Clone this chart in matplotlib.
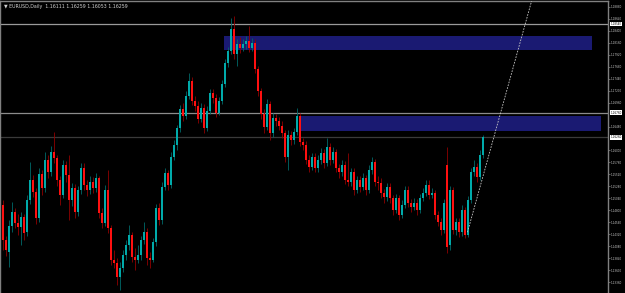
import matplotlib
matplotlib.use("Agg")
import matplotlib.pyplot as plt
import matplotlib.transforms as mtransforms
import numpy as np

header_text = "\u25bc EURUSD,Daily  1.16111 1.16259 1.16053 1.16259"

opens = [1.1490, 1.1420, 1.1396, 1.1448, 1.1476, 1.1454, 1.1446, 1.1466, 1.1436, 1.1500,
         1.1540, 1.1516, 1.1464, 1.1552, 1.1524, 1.1580, 1.1556, 1.1596, 1.1584, 1.1540,
         1.1510, 1.1570, 1.1550, 1.1500, 1.1524, 1.1476, 1.1520, 1.1564, 1.1530, 1.1520,
         1.1536, 1.1524, 1.1544, 1.1474, 1.1454, 1.1520, 1.1444, 1.1380, 1.1374, 1.1346,
         1.1364, 1.1390, 1.1410, 1.1430, 1.1386, 1.1380, 1.1390, 1.1420, 1.1436, 1.1384,
         1.1380, 1.1416, 1.1484, 1.1460, 1.1526, 1.1554, 1.1530, 1.1586, 1.1610, 1.1644,
         1.1684, 1.1670, 1.1710, 1.1740, 1.1700, 1.1690, 1.1664, 1.1686, 1.1644, 1.1680,
         1.1716, 1.1706, 1.1676, 1.1700, 1.1734, 1.1776, 1.1800, 1.1844, 1.1794, 1.1814,
         1.1806, 1.1814, 1.1820, 1.1806, 1.1816, 1.1764, 1.1720, 1.1674, 1.1646, 1.1694,
         1.1634, 1.1666, 1.1660, 1.1650, 1.1634, 1.1586, 1.1630, 1.1620, 1.1636, 1.1670,
         1.1616, 1.1610, 1.1580, 1.1566, 1.1586, 1.1564, 1.1580, 1.1594, 1.1574, 1.1606,
         1.1580, 1.1596, 1.1564, 1.1556, 1.1570, 1.1540, 1.1536, 1.1556, 1.1520, 1.1540,
         1.1526, 1.1544, 1.1520, 1.1560, 1.1576, 1.1536, 1.1534, 1.1514, 1.1506, 1.1526,
         1.1504, 1.1480, 1.1504, 1.1470, 1.1490, 1.1520, 1.1494, 1.1486, 1.1494, 1.1480,
         1.1504, 1.1514, 1.1530, 1.1510, 1.1514, 1.1470, 1.1456, 1.1440, 1.1570, 1.1410,
         1.1520, 1.1440, 1.1456, 1.1436, 1.1480, 1.1430, 1.1500, 1.1556, 1.1566, 1.1546,
         1.1590]
closes = [1.1420, 1.1400, 1.1448, 1.1476, 1.1454, 1.1446, 1.1466, 1.1434, 1.1500, 1.1540,
          1.1516, 1.1464, 1.1552, 1.1524, 1.1580, 1.1556, 1.1596, 1.1584, 1.1540, 1.1510,
          1.1570, 1.1550, 1.1500, 1.1524, 1.1476, 1.1520, 1.1564, 1.1530, 1.1520, 1.1536,
          1.1524, 1.1544, 1.1474, 1.1454, 1.1520, 1.1444, 1.1380, 1.1374, 1.1346, 1.1364,
          1.1390, 1.1410, 1.1430, 1.1386, 1.1380, 1.1390, 1.1420, 1.1436, 1.1384, 1.1380,
          1.1416, 1.1484, 1.1460, 1.1526, 1.1554, 1.1530, 1.1586, 1.1610, 1.1644, 1.1684,
          1.1670, 1.1710, 1.1740, 1.1700, 1.1690, 1.1664, 1.1686, 1.1644, 1.1680, 1.1716,
          1.1706, 1.1676, 1.1700, 1.1734, 1.1776, 1.1800, 1.1844, 1.1794, 1.1814, 1.1806,
          1.1814, 1.1820, 1.1806, 1.1816, 1.1764, 1.1720, 1.1674, 1.1646, 1.1694, 1.1634,
          1.1666, 1.1660, 1.1650, 1.1634, 1.1586, 1.1630, 1.1620, 1.1636, 1.1670, 1.1616,
          1.1610, 1.1580, 1.1566, 1.1586, 1.1564, 1.1580, 1.1594, 1.1574, 1.1606, 1.1580,
          1.1596, 1.1564, 1.1556, 1.1570, 1.1540, 1.1536, 1.1556, 1.1520, 1.1540, 1.1526,
          1.1544, 1.1520, 1.1560, 1.1576, 1.1536, 1.1534, 1.1514, 1.1506, 1.1526, 1.1504,
          1.1480, 1.1504, 1.1470, 1.1490, 1.1520, 1.1494, 1.1486, 1.1494, 1.1480, 1.1504,
          1.1514, 1.1530, 1.1510, 1.1514, 1.1470, 1.1456, 1.1440, 1.1494, 1.1406, 1.1520,
          1.1440, 1.1456, 1.1436, 1.1480, 1.1430, 1.1500, 1.1556, 1.1566, 1.1546, 1.1590,
          1.1626]
highs = [1.1500, 1.1428, 1.1460, 1.1496, 1.1484, 1.1472, 1.1476, 1.1472, 1.1510, 1.1576,
         1.1550, 1.1524, 1.1564, 1.1560, 1.1596, 1.1590, 1.1608, 1.1636, 1.1590, 1.1548,
         1.1580, 1.1578, 1.1590, 1.1534, 1.1532, 1.1528, 1.1574, 1.1574, 1.1540, 1.1548,
         1.1546, 1.1554, 1.1548, 1.1484, 1.1530, 1.1560, 1.1450, 1.1400, 1.1384, 1.1376,
         1.1400, 1.1420, 1.1450, 1.1436, 1.1404, 1.1410, 1.1428, 1.1456, 1.1444, 1.1396,
         1.1424, 1.1492, 1.1494, 1.1536, 1.1564, 1.1560, 1.1596, 1.1620, 1.1652, 1.1692,
         1.1696, 1.1720, 1.1756, 1.1748, 1.1710, 1.1700, 1.1696, 1.1694, 1.1690, 1.1724,
         1.1724, 1.1714, 1.1708, 1.1742, 1.1784, 1.1808, 1.1866, 1.1870, 1.1824, 1.1828,
         1.1824, 1.1830, 1.1850, 1.1826, 1.1824, 1.1770, 1.1726, 1.1684, 1.1704, 1.1700,
         1.1676, 1.1674, 1.1668, 1.1660, 1.1640, 1.1640, 1.1638, 1.1644, 1.1686, 1.1676,
         1.1624, 1.1618, 1.1590, 1.1594, 1.1594, 1.1590, 1.1604, 1.1602, 1.1624, 1.1614,
         1.1606, 1.1602, 1.1572, 1.1580, 1.1578, 1.1594, 1.1564, 1.1564, 1.1548, 1.1548,
         1.1554, 1.1550, 1.1570, 1.1586, 1.1582, 1.1548, 1.1544, 1.1522, 1.1534, 1.1534,
         1.1510, 1.1512, 1.1510, 1.1500, 1.1528, 1.1528, 1.1502, 1.1504, 1.1502, 1.1512,
         1.1524, 1.1540, 1.1540, 1.1524, 1.1520, 1.1478, 1.1464, 1.1502, 1.1606, 1.1528,
         1.1526, 1.1464, 1.1464, 1.1490, 1.1486, 1.1508, 1.1564, 1.1580, 1.1574, 1.1600,
         1.1630]
lows = [1.1400, 1.1388, 1.1366, 1.1436, 1.1444, 1.1430, 1.1410, 1.1420, 1.1428, 1.1492,
        1.1506, 1.1452, 1.1456, 1.1510, 1.1516, 1.1544, 1.1548, 1.1574, 1.1528, 1.1490,
        1.1504, 1.1536, 1.1460, 1.1488, 1.1464, 1.1468, 1.1512, 1.1520, 1.1508, 1.1512,
        1.1514, 1.1516, 1.1464, 1.1444, 1.1448, 1.1434, 1.1370, 1.1364, 1.1330, 1.1320,
        1.1356, 1.1380, 1.1400, 1.1376, 1.1360, 1.1374, 1.1380, 1.1412, 1.1370, 1.1364,
        1.1376, 1.1408, 1.1450, 1.1452, 1.1520, 1.1520, 1.1524, 1.1580, 1.1600, 1.1636,
        1.1660, 1.1664, 1.1704, 1.1692, 1.1680, 1.1656, 1.1658, 1.1634, 1.1638, 1.1674,
        1.1696, 1.1668, 1.1672, 1.1694, 1.1728, 1.1768, 1.1794, 1.1784, 1.1770, 1.1796,
        1.1800, 1.1804, 1.1798, 1.1800, 1.1756, 1.1710, 1.1664, 1.1634, 1.1640, 1.1620,
        1.1626, 1.1650, 1.1640, 1.1624, 1.1576, 1.1560, 1.1610, 1.1612, 1.1630, 1.1608,
        1.1600, 1.1572, 1.1556, 1.1560, 1.1556, 1.1556, 1.1572, 1.1564, 1.1568, 1.1570,
        1.1574, 1.1556, 1.1544, 1.1548, 1.1532, 1.1528, 1.1528, 1.1510, 1.1514, 1.1516,
        1.1520, 1.1510, 1.1514, 1.1552, 1.1528, 1.1520, 1.1504, 1.1494, 1.1498, 1.1494,
        1.1470, 1.1474, 1.1460, 1.1464, 1.1484, 1.1486, 1.1476, 1.1480, 1.1470, 1.1474,
        1.1498, 1.1508, 1.1502, 1.1504, 1.1462, 1.1448, 1.1430, 1.1434, 1.1394, 1.1400,
        1.1432, 1.1430, 1.1426, 1.1428, 1.1424, 1.1426, 1.1494, 1.1548, 1.1536, 1.1540,
        1.1584]

# horizontal levels (two drawn lines + the bid line)
level_prices = [1.1854, 1.1676, 1.1626]
level_colors = ["#9a9a9a", "#8c8c8c", "#3a3a3a"]

# supply zones (bar index start/end, price top/bottom)
zone_start = [73.7, 98.7]
zone_end = [196.3, 199.3]
zone_top = [1.1830, 1.1670]
zone_bottom = [1.1802, 1.1638]

# dashed trend line
trend_x = [154.7, 178.0]
trend_p = [1.1436, 1.1942]

tick_prices = np.round(np.arange(1.1888, 1.1330, -0.0024), 4)
# the boxed level labels take the place of nearby ticks
tick_prices = [t for t in tick_prices if min(abs(t - p) for p in level_prices) > 0.0007]

bg = "#000000"
bull, bear = "#00aaaa", "#ff1010"
bull_wick, bear_wick = "#006a6a", "#900000"

fig = plt.figure(figsize=(6.25, 2.93), dpi=100, facecolor=bg)
ax = fig.add_axes([0.0, 0.0, 608 / 625, 0.997])
ax.set_facecolor(bg)

o = np.array(opens)
c = np.array(closes)
h = np.array(highs)
l = np.array(lows)
idx = np.arange(len(c))
up = c >= o
dn = ~up

for (x0, x1, top, bot) in zip(zone_start, zone_end, zone_top, zone_bottom):
    ax.fill_between([x0, x1], bot, top, color="#1a1a72", lw=0, zorder=1)

for p, col in zip(level_prices, level_colors):
    ax.axhline(p, color=col, lw=0.9, zorder=1.5)

ax.vlines(idx[up], l[up], h[up], color=bull_wick, lw=0.6, zorder=2)
ax.vlines(idx[dn], l[dn], h[dn], color=bear_wick, lw=0.6, zorder=2)
body = np.maximum(np.abs(c - o), 0.00008)
ax.bar(idx[up], body[up], bottom=np.minimum(o, c)[up], width=0.6, color=bull, lw=0, zorder=3)
ax.bar(idx[dn], body[dn], bottom=np.minimum(o, c)[dn], width=0.6, color=bear, lw=0, zorder=3)

ax.plot(trend_x, trend_p, color="#c8c8c8", lw=0.6, ls=(0, (2, 1.5)), zorder=4)

ax.set_xlim(-1, 201.5)
ax.set_ylim(1.1314, 1.1900)

ax.set_xticks([])
ax.yaxis.tick_right()
ax.set_yticks(tick_prices)
ax.set_yticklabels(["%.5f" % t for t in tick_prices], family="DejaVu Sans",
                   fontstretch="condensed")
ax.tick_params(axis="y", colors="#8a8a8a", labelcolor="#c8c8c8", labelsize=2.2,
               length=1.5, width=0.5, pad=0.6)

for side in ["left", "top", "right"]:
    ax.spines[side].set_color("#808080")
    ax.spines[side].set_linewidth(1.0)
ax.spines["bottom"].set_visible(False)

trans = mtransforms.blended_transform_factory(ax.transAxes, ax.transData)
for p in level_prices:
    ax.text(1.004, p, "%.5f" % p, transform=trans, fontsize=2.2, color="black",
            family="DejaVu Sans", fontstretch="condensed", va="center", ha="left",
            clip_on=False, zorder=6,
            bbox=dict(boxstyle="square,pad=0.1", facecolor="white", edgecolor="none"))

fig.text(0.006, 0.985, header_text, fontsize=3.4, color="#d0d0d0", va="top", ha="left")

fig.savefig("out.png", dpi=100, facecolor=bg)
